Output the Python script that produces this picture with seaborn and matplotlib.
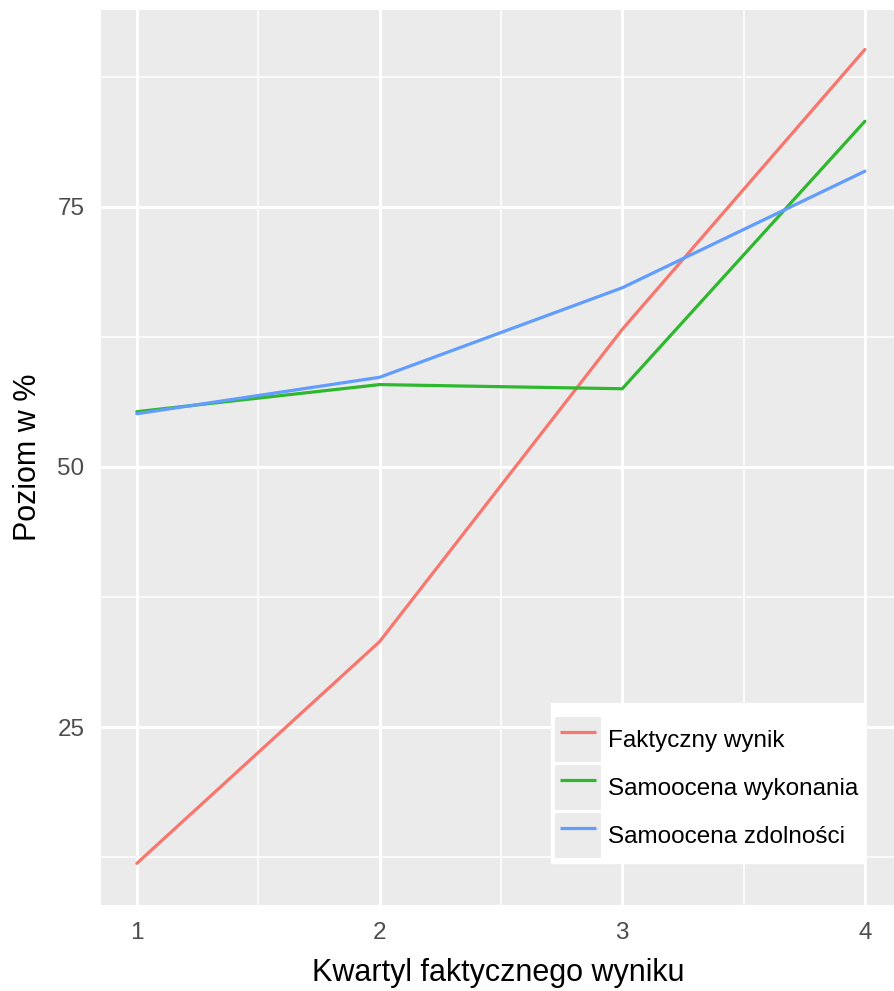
import numpy as np
import pandas as pd
import matplotlib
matplotlib.use("Agg")
import matplotlib.pyplot as plt
import seaborn as sns
from matplotlib.patches import Rectangle
from matplotlib.legend_handler import HandlerLine2D

# data
kwartyle = [1, 2, 3, 4]
faktyczny = [11.9, 33.2, 63.2, 90.1]
wykonanie = [55.3, 57.9, 57.5, 83.2]
zdolnosci = [55.1, 58.6, 67.2, 78.4]
serie = ["Faktyczny wynik", "Samoocena wykonania", "Samoocena zdolności"]
kolory = ["#F8766D", "#2EB82E", "#619CFF"]

df = pd.DataFrame({
    "kwartyl": kwartyle * 3,
    "poziom": faktyczny + wykonanie + zdolnosci,
    "seria": np.repeat(serie, len(kwartyle)),
})


class KeyHandler(HandlerLine2D):
    # grey key box behind each legend line, ggplot style
    def create_artists(self, legend, orig_handle, xdescent, ydescent,
                       width, height, fontsize, trans):
        bg = Rectangle((-xdescent, -ydescent), width, height,
                       facecolor="#EBEBEB", edgecolor="none", transform=trans)
        arts = super().create_artists(legend, orig_handle, xdescent, ydescent,
                                      width, height, fontsize, trans)
        line = arts[0]
        y0 = line.get_ydata()[0]
        line.set_data([-xdescent + 0.1 * width, -xdescent + 0.9 * width], [y0, y0])
        line.set_solid_capstyle("butt")
        return [bg] + list(arts)


sns.set_theme(style="darkgrid")
plt.rcParams["font.family"] = ["Liberation Sans", "DejaVu Sans"]

fig = plt.figure(figsize=(8.95, 9.91), dpi=100)
ax = fig.add_axes([0.1128, 0.0868, 0.8872, 0.9032])
ax.set_facecolor("#EBEBEB")

sns.lineplot(data=df, x="kwartyl", y="poziom", hue="seria",
             palette=dict(zip(serie, kolory)), linewidth=2.3, ax=ax)

ax.set_xlim(0.852, 4.124)
ax.set_ylim(7.9, 93.9)
ax.set_xticks(kwartyle)
ax.set_yticks([25, 50, 75])
ax.set_xticks([1.5, 2.5, 3.5], minor=True)
ax.set_yticks([12.5, 37.5, 62.5, 87.5], minor=True)
ax.grid(which="major", color="white", linewidth=2.2)
ax.grid(which="minor", color="white", linewidth=1.1)
for s in ax.spines.values():
    s.set_visible(False)
ax.tick_params(which="major", length=6, width=1.5, color="#333333",
               labelsize=17.5, labelcolor="#4D4D4D", pad=6)
ax.tick_params(which="minor", length=0)

ax.set_xlabel("Kwartyl faktycznego wyniku", fontsize=22, labelpad=10, color="black")
ax.set_ylabel("Poziom w %", fontsize=22, labelpad=10, color="black")

handles, labels = ax.get_legend_handles_labels()
leg = ax.legend(handles, labels, title=" ", title_fontsize=6,
                loc="lower right", bbox_to_anchor=(0.96, 0.047),
                fontsize=17.5, frameon=True, fancybox=False, framealpha=1,
                handlelength=1.87, handleheight=2.47, labelspacing=0.12,
                borderpad=0.2, borderaxespad=0, handletextpad=0.3,
                handler_map={h: KeyHandler() for h in handles})
leg.get_frame().set_facecolor("white")
leg.get_frame().set_edgecolor("white")
for line in leg.get_lines():
    line.set_linewidth(3)
for t in leg.get_texts():
    t.set_color("black")

fig.savefig("out.png", dpi=100)
